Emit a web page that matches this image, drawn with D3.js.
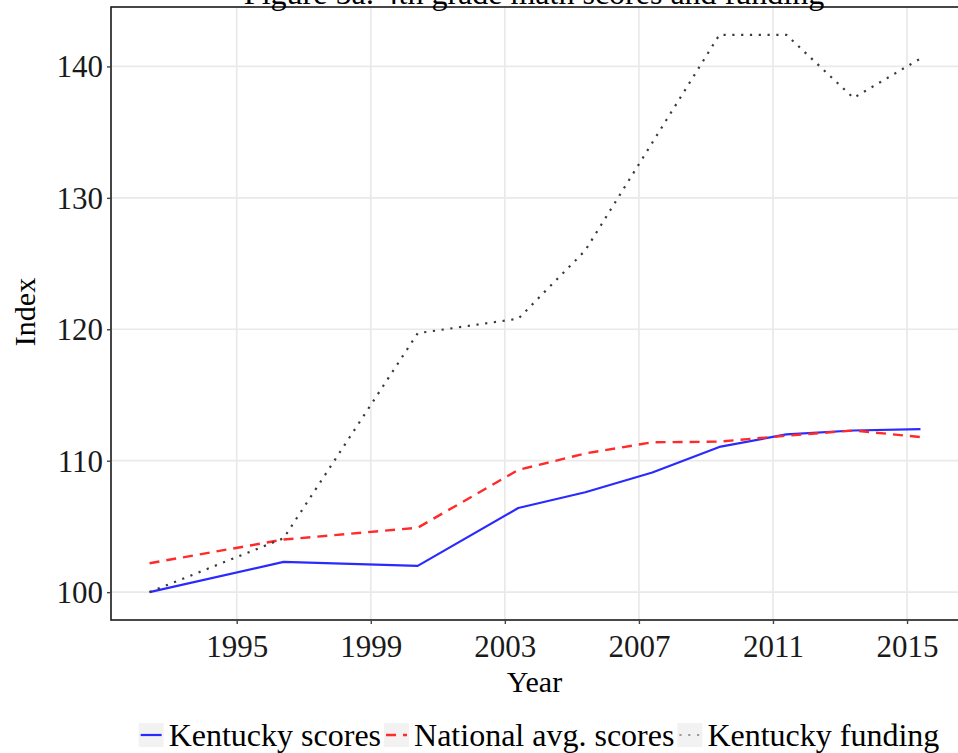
<!DOCTYPE html>
<html>
<head>
<meta charset="utf-8">
<script src="https://cdn.jsdelivr.net/npm/d3@7"></script>
<style>
  html, body { margin: 0; padding: 0; background: #ffffff; }
  svg { display: block; font-family: "Liberation Serif", "Times New Roman", serif; }
</style>
</head>
<body>
<svg id="chart" width="958" height="753"></svg>
<script>
// Survey years (mid-year positions) and indexed values (first year = 100)
const years = [1992.4, 1996.4, 2000.4, 2003.4, 2005.4, 2007.4, 2009.4, 2011.4, 2013.4, 2015.4];
const kentuckyScores = [100, 102.3, 102.0, 106.4, 107.6, 109.1, 111.05, 112.0, 112.3, 112.4];
const nationalScores = [102.2, 104.0, 104.9, 109.3, 110.55, 111.4, 111.45, 111.9, 112.3, 111.8];
const kentuckyFunding = [100, 104.1, 119.7, 120.8, 126.0, 134.2, 142.4, 142.4, 137.6, 140.6];

const xTicks = [1995, 1999, 2003, 2007, 2011, 2015];
const yTicks = [100, 110, 120, 130, 140];

const seriesNames = ["Kentucky scores", "National avg. scores", "Kentucky funding"];
const seriesValues = [kentuckyScores, nationalScores, kentuckyFunding];
const seriesStyles = [
  { color: "#2a2aff", width: 2.2, dash: null },
  { color: "#ff2a2a", width: 2.4, dash: "10,7" },
  { color: "#3a3a3a", width: 2.2, dash: "2.2,6.6" }
];

const svg = d3.select("#chart");
const panel = { left: 111, top: 7, right: 959, bottom: 620 };

// ggplot-style 5% expansion around the data range
const xMin = d3.min(years), xMax = d3.max(years);
const xPad = (xMax - xMin) * 0.05;
const allY = kentuckyScores.concat(nationalScores, kentuckyFunding);
const yMin = d3.min(allY), yMax = d3.max(allY);
const yPad = (yMax - yMin) * 0.05;

const x = d3.scaleLinear().domain([xMin - xPad, xMax + xPad]).range([panel.left, panel.right]);
const y = d3.scaleLinear().domain([yMin - yPad, yMax + yPad]).range([panel.bottom, panel.top]);

const clipId = "panelClip";
svg.append("defs").append("clipPath").attr("id", clipId)
  .append("rect")
  .attr("x", panel.left).attr("y", panel.top)
  .attr("width", panel.right - panel.left).attr("height", panel.bottom - panel.top);

// Major grid
const grid = svg.append("g").attr("clip-path", `url(#${clipId})`);
grid.selectAll("line.ymaj").data(yTicks).enter().append("line")
  .attr("x1", panel.left).attr("x2", panel.right)
  .attr("y1", d => y(d)).attr("y2", d => y(d))
  .attr("stroke", "#e9e9e9").attr("stroke-width", 1.7);
grid.selectAll("line.xmaj").data(xTicks).enter().append("line")
  .attr("y1", panel.top).attr("y2", panel.bottom)
  .attr("x1", d => x(d)).attr("x2", d => x(d))
  .attr("stroke", "#e9e9e9").attr("stroke-width", 1.7);

// Series lines
const line = d3.line().x(d => x(d[0])).y(d => y(d[1]));
const lines = svg.append("g").attr("clip-path", `url(#${clipId})`);
seriesValues.forEach((vals, i) => {
  const st = seriesStyles[i];
  const p = lines.append("path")
    .datum(years.map((yr, j) => [yr, vals[j]]))
    .attr("d", line)
    .attr("fill", "none")
    .attr("stroke", st.color)
    .attr("stroke-width", st.width)
    .attr("stroke-linejoin", "round");
  if (st.dash) p.attr("stroke-dasharray", st.dash);
});

// Panel border
svg.append("rect")
  .attr("x", panel.left).attr("y", panel.top)
  .attr("width", panel.right - panel.left).attr("height", panel.bottom - panel.top)
  .attr("fill", "none").attr("stroke", "#1a1a1a").attr("stroke-width", 1.6);

// Axes
const xAxis = d3.axisBottom(x).tickValues(xTicks).tickFormat(d3.format("d")).tickSize(4).tickPadding(5);
const yAxis = d3.axisLeft(y).tickValues(yTicks).tickFormat(d3.format("d")).tickSize(4).tickPadding(4);

const gx = svg.append("g").attr("transform", `translate(0,${panel.bottom})`).call(xAxis);
const gy = svg.append("g").attr("transform", `translate(${panel.left},0)`).call(yAxis);
[gx, gy].forEach(g => {
  g.select(".domain").remove();
  g.selectAll(".tick line").attr("stroke", "#444").attr("stroke-width", 1.4);
  g.selectAll(".tick text")
    .attr("fill", "#1a1a1a")
    .style("font-family", "'Liberation Serif', serif")
    .style("font-size", "31px");
});
gx.selectAll(".tick text").attr("dy", "0.9em");
gy.selectAll(".tick text").attr("dy", "0.34em");

// Axis titles
svg.append("text")
  .attr("x", (panel.left + panel.right) / 2 - 0.5).attr("y", 692)
  .attr("text-anchor", "middle")
  .attr("fill", "#000").style("font-size", "30px")
  .text("Year");
svg.append("text")
  .attr("transform", "translate(35,312) rotate(-90)")
  .attr("text-anchor", "middle")
  .attr("fill", "#000").style("font-size", "30px")
  .text("Index");

// Plot title (sits above the panel)
svg.append("text")
  .attr("x", 534).attr("y", 4)
  .attr("text-anchor", "middle")
  .attr("fill", "#000").style("font-size", "32px")
  .text("Figure 5a: 4th grade math scores and funding");

// Legend
const legend = svg.append("g");
const keyW = 25, keyH = 24, keyGap = 5, itemGap = 3;
const legendItems = seriesNames.map((name, i) => {
  const g = legend.append("g");
  g.append("rect").attr("x", 0).attr("y", -12).attr("width", keyW).attr("height", keyH)
    .attr("fill", "#f2f2f2");
  const ln = g.append("line").attr("x1", 2).attr("x2", keyW - 2).attr("y1", 0).attr("y2", 0)
    .attr("stroke", seriesStyles[i].color)
    .attr("stroke-width", seriesStyles[i].width);
  if (seriesStyles[i].dash) ln.attr("stroke-dasharray", seriesStyles[i].dash);
  if (i === 2) ln.attr("stroke", "#9a9a9a");
  const t = g.append("text").attr("x", keyW + keyGap).attr("y", 0).attr("dy", "0.33em")
    .attr("fill", "#000").style("font-size", "32px").text(name);
  return { g, w: keyW + keyGap + t.node().getComputedTextLength() };
});
const totalW = d3.sum(legendItems, d => d.w) + itemGap * (legendItems.length - 1);
let cx = 539 - totalW / 2;
legendItems.forEach(it => {
  it.g.attr("transform", `translate(${cx},735)`);
  cx += it.w + itemGap;
});
</script>
</body>
</html>
